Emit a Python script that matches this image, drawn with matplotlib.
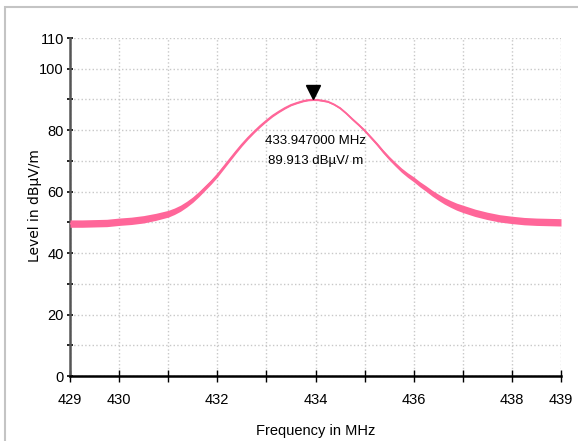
import matplotlib.pyplot as plt
from matplotlib.patches import Rectangle

plt.rcParams['font.family'] = ['Liberation Sans Narrow', 'Liberation Sans', 'DejaVu Sans']

# trace (centre of the noisy band and its half thickness)
freq = [429.0, 429.25, 429.5, 429.75, 430.0, 430.25, 430.5, 430.75,
        431.0, 431.125, 431.25, 431.375, 431.5, 431.625, 431.75, 431.875,
        432.0, 432.125, 432.25, 432.375, 432.5, 432.625, 432.75, 432.875,
        433.0, 433.125, 433.25, 433.375, 433.5, 433.625, 433.75, 433.85,
        433.947, 434.05, 434.15, 434.25, 434.375, 434.5, 434.625, 434.75, 434.875,
        435.0, 435.125, 435.25, 435.375, 435.5, 435.625, 435.75, 435.875,
        436.0, 436.125, 436.25, 436.375, 436.5, 436.625, 436.75, 436.875,
        437.0, 437.25, 437.5, 437.75, 438.0, 438.25, 438.5, 438.75, 439.0]
level = [49.6, 49.6, 49.7, 49.8, 50.2, 50.5, 51.0, 51.8,
         52.8, 53.6, 54.6, 55.9, 57.4, 59.2, 61.2, 63.2,
         65.4, 67.9, 70.4, 72.9, 75.3, 77.5, 79.5, 81.4,
         83.1, 84.7, 86.0, 87.2, 88.2, 88.9, 89.5, 89.8,
         89.9, 89.85, 89.6, 89.3, 88.4, 87.2, 85.5, 83.6, 81.8,
         79.9, 77.7, 75.5, 73.1, 70.9, 68.9, 67.0, 65.4,
         64.0, 62.4, 61.0, 59.5, 58.2, 57.0, 56.0, 55.1,
         54.4, 53.1, 52.1, 51.3, 50.8, 50.4, 50.2, 50.1, 50.0]
spread = [1.2, 1.2, 1.2, 1.2, 1.2, 1.2, 1.2, 1.15,
          1.1, 1.05, 1.0, 0.95, 0.9, 0.85, 0.8, 0.75,
          0.7, 0.65, 0.6, 0.55, 0.5, 0.45, 0.4, 0.4,
          0.35, 0.35, 0.3, 0.3, 0.25, 0.25, 0.25, 0.25,
          0.25, 0.25, 0.25, 0.25, 0.25, 0.3, 0.3, 0.35, 0.35,
          0.4, 0.45, 0.5, 0.55, 0.6, 0.65, 0.7, 0.75,
          0.8, 0.85, 0.9, 0.95, 1.0, 1.05, 1.1, 1.15,
          1.2, 1.2, 1.2, 1.2, 1.2, 1.2, 1.2, 1.2, 1.2]

peak_freq = 433.947
peak_level = 89.913

x_ticks = list(range(429, 440))
x_labels = ['429', '430', '', '432', '', '434', '', '436', '', '438', '439']
y_ticks = list(range(0, 111, 10))
y_labels = ['0', '', '20', '', '40', '', '60', '', '80', '', '100', '110']

fig = plt.figure(figsize=(5.78, 4.41), dpi=100)
fig.patches.append(Rectangle((5 / 578, -0.01), 1.0, 1 - 7 / 441 + 0.01,
                             transform=fig.transFigure, facecolor='white',
                             edgecolor='#c4c4c4', linewidth=1.5, zorder=-5))
ax = fig.add_axes([70 / 578, 65 / 441, 491 / 578, 338 / 441])
ax.set_facecolor('white')

lower = [l - s for l, s in zip(level, spread)]
upper = [l + s for l, s in zip(level, spread)]
ax.fill_between(freq, lower, upper, color='#ff6699', linewidth=0, zorder=3)
ax.plot(freq, level, color='#ff6699', linewidth=1.3, zorder=3)

ax.plot([peak_freq], [peak_level + 2.5], marker='v', color='black',
        markersize=10, zorder=4, clip_on=False)
ax.text(peak_freq + 0.05, 76.5, '%.6f MHz' % peak_freq, ha='center', va='center',
        fontsize=9.5)
ax.text(peak_freq + 0.05, 70.0, '%.3f dBµV/ m' % peak_level, ha='center', va='center',
        fontsize=9.5)

ax.set_xlim(429, 439)
ax.set_ylim(0, 110)
ax.set_xticks(x_ticks)
ax.set_xticklabels(x_labels, fontsize=10.5)
ax.set_yticks(y_ticks)
ax.set_yticklabels(y_labels, fontsize=10.5)
ax.tick_params(axis='x', direction='inout', length=9, width=1, pad=8)
ax.tick_params(axis='y', direction='inout', length=5, width=1.2, pad=2)

ax.grid(True, color='#c8c8c8', linestyle=':', linewidth=1)
ax.set_axisbelow(True)
for side in ['top', 'right']:
    ax.spines[side].set_visible(False)
ax.spines['left'].set_color('#555555')
ax.spines['left'].set_linewidth(1.8)
ax.spines['bottom'].set_color('black')
ax.spines['bottom'].set_linewidth(1.8)

ax.set_xlabel('Frequency in MHz', fontsize=10.5, labelpad=12)
fig.text(35 / 578, 1 - 206 / 441, 'Level in dBµV/m', rotation=90, ha='center',
         va='center', fontsize=10, family=['DejaVu Sans'])

fig.savefig('out.png', dpi=100)
